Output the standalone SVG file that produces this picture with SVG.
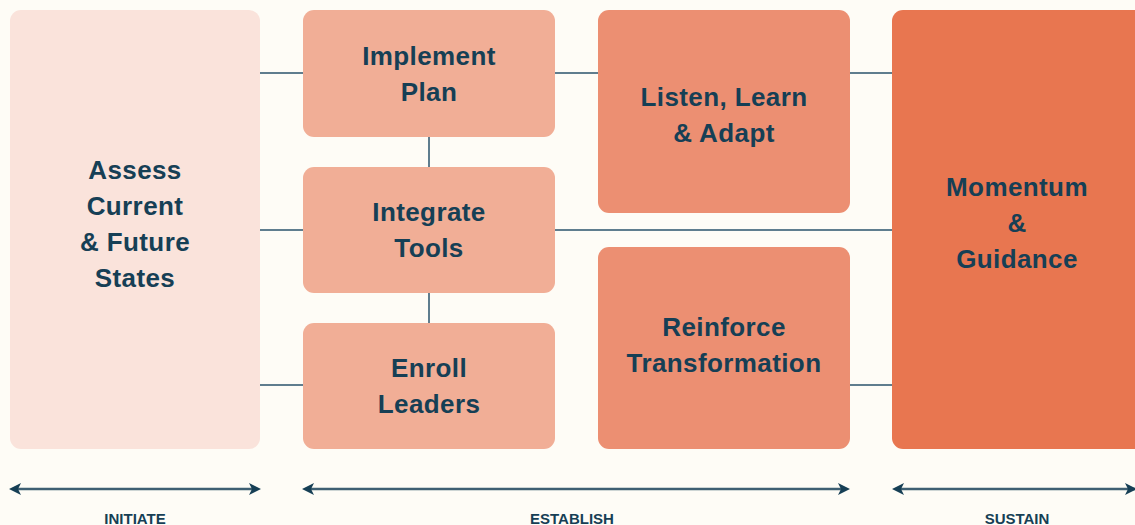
<svg xmlns="http://www.w3.org/2000/svg" width="1135" height="525" viewBox="0 0 1135 525">
<defs>
<style>
.t{font-family:"Liberation Sans",Arial,sans-serif;font-weight:bold;font-size:26px;letter-spacing:0.4px;fill:#163F55;text-anchor:middle}
.l{font-family:"Liberation Sans",Arial,sans-serif;font-weight:bold;font-size:15px;fill:#163F55;text-anchor:middle}
.c{stroke:#5F7D8E;stroke-width:2;fill:none}
.a{stroke:#3E5F72;stroke-width:2.5;fill:none}
.ah{fill:#163F55}
</style>
</defs>
<rect width="1135" height="525" fill="#FEFCF6"/>
<g id="connectors">
<line class="c" x1="260" y1="73" x2="303" y2="73"/>
<line class="c" x1="555" y1="73" x2="598" y2="73"/>
<line class="c" x1="850" y1="73" x2="892" y2="73"/>
<line class="c" x1="260" y1="230" x2="303" y2="230"/>
<line class="c" x1="555" y1="230" x2="892" y2="230"/>
<line class="c" x1="260" y1="385" x2="303" y2="385"/>
<line class="c" x1="850" y1="385" x2="892" y2="385"/>
<line class="c" x1="429" y1="136" x2="429" y2="168"/>
<line class="c" x1="429" y1="292" x2="429" y2="324"/>
</g>
<g id="assess">
<rect x="10" y="10" width="250" height="439" rx="11" fill="#FAE3DB"/>
<text class="t" x="135" y="179">Assess</text>
<text class="t" x="135" y="215">Current</text>
<text class="t" x="135" y="251">&amp; Future</text>
<text class="t" x="135" y="287">States</text>
</g>
<g id="implement">
<rect x="303" y="10" width="252" height="127" rx="11" fill="#F1AE96"/>
<text class="t" x="429" y="65">Implement</text>
<text class="t" x="429" y="101">Plan</text>
</g>
<g id="integrate">
<rect x="303" y="167" width="252" height="126" rx="11" fill="#F1AE96"/>
<text class="t" x="429" y="221">Integrate</text>
<text class="t" x="429" y="257">Tools</text>
</g>
<g id="enroll">
<rect x="303" y="323" width="252" height="126" rx="11" fill="#F1AE96"/>
<text class="t" x="429" y="377">Enroll</text>
<text class="t" x="429" y="413">Leaders</text>
</g>
<g id="listen">
<rect x="598" y="10" width="252" height="203" rx="11" fill="#EC8F72"/>
<text class="t" x="724" y="106">Listen, Learn</text>
<text class="t" x="724" y="142">&amp; Adapt</text>
</g>
<g id="reinforce">
<rect x="598" y="247" width="252" height="202" rx="11" fill="#EC8F72"/>
<text class="t" x="724" y="336">Reinforce</text>
<text class="t" x="724" y="372">Transformation</text>
</g>
<g id="momentum">
<rect x="892" y="10" width="260" height="439" rx="11" fill="#E87650"/>
<text class="t" x="1017" y="196">Momentum</text>
<text class="t" x="1017" y="232">&amp;</text>
<text class="t" x="1017" y="268">Guidance</text>
</g>
<g id="phases">
<line class="a" x1="14" y1="489" x2="256" y2="489"/>
<path class="ah" d="M9,489 L21,483 L18,489 L21,495 Z"/>
<path class="ah" d="M261,489 L249,483 L252,489 L249,495 Z"/>
<line class="a" x1="307" y1="489" x2="846" y2="489"/>
<path class="ah" d="M302,489 L314,483 L311,489 L314,495 Z"/>
<path class="ah" d="M850,489 L838,483 L841,489 L838,495 Z"/>
<line class="a" x1="896" y1="489" x2="1135" y2="489"/>
<path class="ah" d="M892,489 L904,483 L901,489 L904,495 Z"/>
<path class="ah" d="M1137,489 L1125,483 L1128,489 L1125,495 Z"/>
<text class="l" x="135" y="524">INITIATE</text>
<text class="l" x="572" y="524">ESTABLISH</text>
<text class="l" x="1017" y="524">SUSTAIN</text>
</g>
</svg>
